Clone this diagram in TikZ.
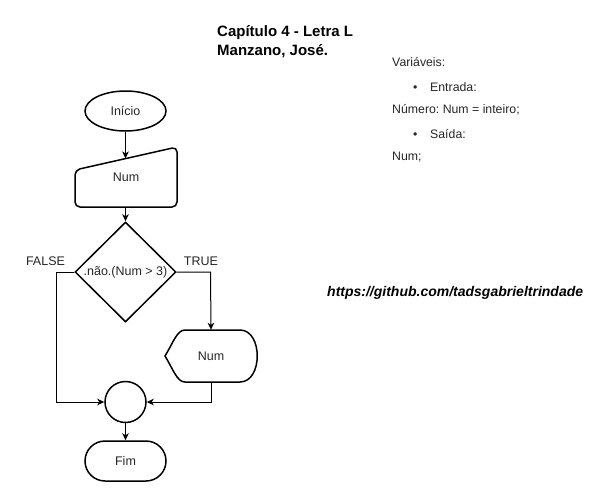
\documentclass[tikz,border=0pt]{standalone}
\usepackage{fontspec}
\setmainfont{Liberation Sans}
\frenchspacing
\usetikzlibrary{shapes.geometric,arrows.meta}
\begin{document}
\begin{tikzpicture}[x=1pt,y=-1pt,
  shp/.style={draw=black,line width=1.5pt},
  conn/.style={draw=black,line width=1pt,-{Stealth[length=7pt,width=6.5pt,inset=2pt]}},
  lbl/.style={font=\fontsize{12.5}{15}\selectfont,text=black!85,inner sep=0pt},
  txt/.style={font=\fontsize{12.3}{15}\selectfont,text=black!85,inner sep=0pt,anchor=west},
  ttl/.style={font=\fontsize{15}{18}\selectfont\bfseries,inner sep=0pt,anchor=west}]
\useasboundingbox (0,0) rectangle (615,503);

% start
\node[shp,ellipse,minimum width=81pt,minimum height=40pt,inner sep=0pt,lbl] (start) at (125.5,111) {Início};

% manual input
\node[lbl,minimum width=102pt,minimum height=60pt] (in) at (126,177) {Num};
\draw[shp,rounded corners=5pt] (75,170) -- (177,147) -- (177,207) -- (75,207) -- cycle;
\coordinate (intop) at (125.5,158.5);
\coordinate (inbot) at (125.5,207);

% decision
\node[shp,diamond,minimum width=101pt,minimum height=100pt,inner sep=0pt,lbl] (dec) at (125.5,272) {.não.(Num > 3)};

% display
\node[lbl,minimum width=92pt,minimum height=52pt] (out) at (211,356) {Num};
\draw[shp] (165,356) .. controls (173,343) and (177,330) .. (185,330) -- (240,330)
  .. controls (263,330) and (263,382) .. (240,382) -- (185,382)
  .. controls (177,382) and (173,369) .. cycle;

% merge
\node[shp,circle,minimum size=41pt,inner sep=0pt] (merge) at (125.5,402) {};

% end
\node[shp,rectangle,rounded corners=20pt,minimum width=81pt,minimum height=40pt,inner sep=0pt,lbl] (fim) at (125.5,461) {Fim};

% connectors
\draw[conn] (start) -- (intop);
\draw[conn] (inbot) -- (dec.north);
\draw[conn] (dec.west) -- (56,272) -- (56,402) -- (merge.west);
\draw[conn] (dec.east) -- (210.5,272) -- (out.north);
\draw[conn] (out.south) -- (211,402) -- (merge.east);
\draw[conn] (merge) -- (fim);

% labels
\node[lbl] (lf) at (45.5,261) {FALSE};
\node[lbl] (lt) at (201,261) {TRUE};

% title
\node[ttl] (t1) at (217,33) {Capítulo 4 - Letra L};
\node[ttl] (t2) at (217,51) {Manzano, José.};

% variables
\node[txt] (v1) at (392,62) {Variáveis:};
\node[txt] (v2) at (413,87) {\makebox[17pt][l]{•}Entrada:};
\node[txt] (v3) at (392,110) {Número: Num = inteiro;};
\node[txt] (v4) at (413,134) {\makebox[17pt][l]{•}Saída:};
\node[txt] (v5) at (392,157) {Num;};

% url
\node[font=\fontsize{14}{16}\selectfont\bfseries\itshape,inner sep=0pt,anchor=west] (url) at (327,293) {https://github.com/tadsgabrieltrindade};
\end{tikzpicture}
\end{document}
